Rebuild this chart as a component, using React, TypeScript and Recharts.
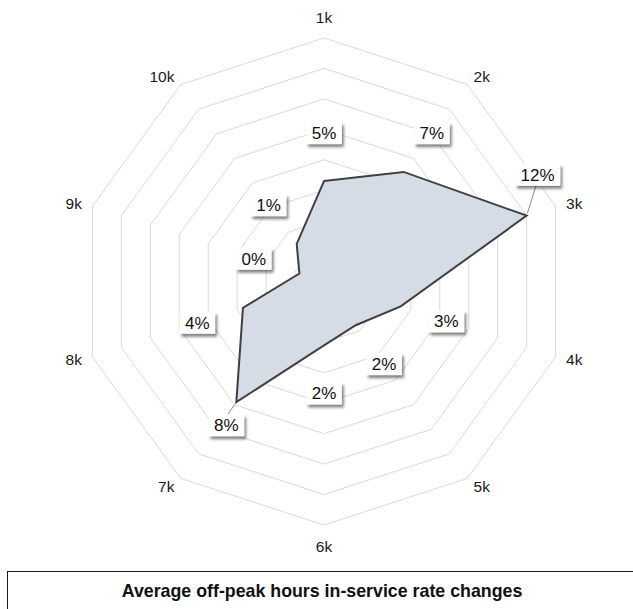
import React from 'react';
import { RadarChart, Radar, PolarGrid, PolarAngleAxis, PolarRadiusAxis } from 'recharts';

// ---- data ----
const categories = ['1k', '2k', '3k', '4k', '5k', '6k', '7k', '8k', '9k', '10k'];
const changeValues = [4.6, 6.9, 12.0, 3.3, 1.55, 2.2, 7.8, 3.6, -0.3, 1.05];
const radiusDomain: [number, number] = [-2, 14];
const radiusTickCount = 9;
const titleText = 'Average off-peak hours in-service rate changes';

const data = categories.map((c, i) => ({ category: c, value: changeValues[i] }));

// ---- layout ----
const W = 633;
const H = 609;
const CX = 324;
const CY = 281.5;
const R = 243.5;
const LABEL_OFFSET = 48;
// manual nudges (relative to the point) for labels moved off their default spot
const labelNudges: Record<number, [number, number]> = {
  2: [11, -41],
  6: [-10, 23],
};

const FONT = '"Liberation Sans", Arial, Helvetica, sans-serif';
const LABEL_FS = 17;

const textWidth = (s: string) => {
  let w = 0;
  for (const ch of s) {
    if (ch === '%') w += 0.889;
    else if (ch === '-') w += 0.333;
    else w += 0.556;
  }
  return w * LABEL_FS;
};

const renderDataLabel = (props: any) => {
  const { cx, cy, index } = props;
  if (typeof cx !== 'number' || typeof cy !== 'number') return <g key={`l-${index}`} />;
  const v = changeValues[index];
  const txt = `${Math.round(v) === 0 ? 0 : Math.round(v)}%`;
  const dx = cx - CX;
  const dy = cy - CY;
  const len = Math.sqrt(dx * dx + dy * dy) || 1;
  let lx: number;
  let ly: number;
  const nudge = labelNudges[index];
  if (nudge) {
    lx = cx + nudge[0];
    ly = cy + nudge[1];
  } else {
    lx = cx + (dx / len) * LABEL_OFFSET;
    ly = cy + (dy / len) * LABEL_OFFSET;
  }
  const bw = textWidth(txt) + 11;
  const bh = 22;
  let leader: React.ReactNode = null;
  if (nudge) {
    const ty = nudge[1] < 0 ? ly + bh / 2 : ly - bh / 2;
    const tx = lx + (cx - lx) * 0.15;
    leader = (
      <line x1={cx + (tx - cx) * 0.08} y1={cy + (ty - cy) * 0.08} x2={tx} y2={ty} stroke="#8c8c8c" strokeWidth={1} />
    );
  }
  return (
    <g key={`l-${index}`}>
      {leader}
      <rect
        x={lx - bw / 2}
        y={ly - bh / 2}
        width={bw}
        height={bh}
        fill="#ffffff"
        filter="url(#lblShadow)"
      />
      <text
        x={lx}
        y={ly + 6}
        textAnchor="middle"
        fontFamily={FONT}
        fontSize={LABEL_FS}
        fill="#111111"
      >
        {txt}
      </text>
    </g>
  );
};

const renderAngleTick = (props: any) => {
  const { x, y, payload, index } = props;
  const dx = x - CX;
  const dy = y - CY;
  const len = Math.sqrt(dx * dx + dy * dy) || 1;
  const ux = dx / len;
  const uy = dy / len;
  const vx = CX + ux * R;
  const vy = CY + uy * R;
  let anchor: 'start' | 'end' | 'middle' = 'middle';
  let tx = vx;
  let ty = vy;
  if (ux > 0.1) {
    anchor = 'start';
    tx = vx + 11 * ux;
    ty = vy + 10 * uy;
  } else if (ux < -0.1) {
    anchor = 'end';
    tx = vx + 11 * ux;
    ty = vy + 10 * uy;
  } else {
    ty = vy + (uy < 0 ? -20 : 22);
  }
  return (
    <text
      key={`t-${index}`}
      x={tx}
      y={ty}
      dy="0.35em"
      textAnchor={anchor}
      fontFamily={FONT}
      fontSize={15.5}
      fill="#1a1a1a"
    >
      {payload.value}
    </text>
  );
};

export default function App() {
  return (
    <div
      style={{
        position: 'absolute',
        left: 0,
        top: 0,
        width: W,
        height: H,
        overflow: 'hidden',
        background: '#ffffff',
      }}
    >
      <svg width={0} height={0} style={{ position: 'absolute' }}>
        <defs>
          <filter id="lblShadow" x="-30%" y="-30%" width="160%" height="180%">
            <feDropShadow dx={2} dy={3} stdDeviation={1.6} floodColor="#000000" floodOpacity={0.5} />
          </filter>
        </defs>
      </svg>
      <div style={{ position: 'absolute', left: 0, top: 0 }}>
        <RadarChart
          width={W}
          height={H}
          data={data}
          cx={CX}
          cy={CY}
          outerRadius={R}
          margin={{ top: 0, right: 0, bottom: 0, left: 0 }}
        >
          <PolarGrid gridType="polygon" radialLines={false} stroke="#d9d9d9" strokeWidth={1} />
          <PolarAngleAxis dataKey="category" tick={renderAngleTick} tickLine={false} axisLine={false} />
          <PolarRadiusAxis
            domain={radiusDomain}
            tickCount={radiusTickCount}
            tick={false}
            axisLine={false}
            angle={90}
          />
          <Radar
            dataKey="value"
            stroke="#404040"
            strokeWidth={2}
            fill="#d6dce5"
            fillOpacity={1}
            dot={renderDataLabel}
            isAnimationActive={false}
          />
        </RadarChart>
      </div>
      <div
        style={{
          position: 'absolute',
          left: 7,
          top: 571,
          width: 640,
          height: 60,
          border: '1px solid #1a1a1a',
          boxSizing: 'border-box',
        }}
      />
      <div
        style={{
          position: 'absolute',
          left: 0,
          width: 644,
          top: 581,
          textAlign: 'center',
          fontFamily: FONT,
          fontWeight: 'bold',
          fontSize: 17.8,
          lineHeight: '20px',
          color: '#111111',
          whiteSpace: 'nowrap',
        }}
      >
        {titleText}
      </div>
    </div>
  );
}
